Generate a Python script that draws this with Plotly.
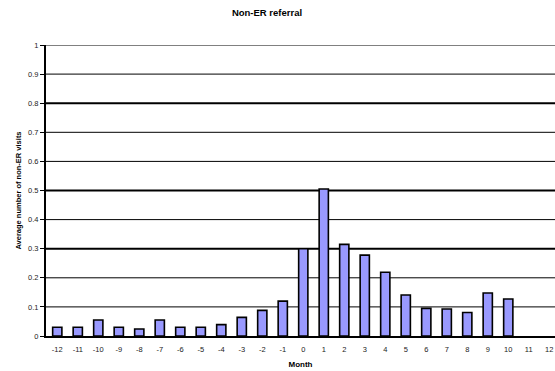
import plotly.graph_objects as go

# Average number of non-ER visits per month relative to the index month
months = list(range(-12, 13))
avg_visits = [0.030, 0.030, 0.055, 0.030, 0.024, 0.055, 0.030, 0.030, 0.039,
              0.064, 0.088, 0.120, 0.300, 0.505, 0.315, 0.278, 0.219, 0.141,
              0.095, 0.093, 0.081, 0.148, 0.127, None, None]

y_ticks = [round(i * 0.1, 1) for i in range(11)]
y_tick_text = ["0" if v == 0 else ("1" if v == 1 else f"{v:.1f}") for v in y_ticks]

# Horizontal rules: (level, width, colour)
rules = [(0.1, 1, "black"), (0.2, 1, "black"), (0.3, 2, "black"),
         (0.4, 1, "black"), (0.5, 2, "black"), (0.6, 1, "black"),
         (0.7, 1, "black"), (0.8, 2, "black"), (0.9, 1, "black"),
         (1.0, 2, "#808080")]

FONT = "Liberation Sans, Arial, sans-serif"

fig = go.Figure(go.Bar(
    x=months,
    y=avg_visits,
    width=0.45,
    marker=dict(color="#9999FF", line=dict(color="black", width=1.6)),
))

shapes = [dict(type="line", xref="paper", x0=0, x1=1, yref="y", y0=lvl, y1=lvl,
               line=dict(color=col, width=w), layer="below")
          for lvl, w, col in rules]

fig.update_layout(
    width=555, height=371,
    margin=dict(l=46, r=0, t=45, b=35),
    paper_bgcolor="white", plot_bgcolor="white",
    showlegend=False,
    shapes=shapes,
    font=dict(family=FONT, color="black"),
    title=dict(text="<b>Non-ER referral</b>", font=dict(size=9.5, family=FONT),
               xref="container", x=267 / 555, xanchor="center",
               yref="container", y=1 - 13 / 371, yanchor="middle"),
    xaxis=dict(
        range=[-12.55, 12.28],
        tickmode="array", tickvals=months, ticktext=[str(m) for m in months],
        tickfont=dict(size=7.5, color="#222222"),
        ticks="", ticklabelstandoff=5, showgrid=False, zeroline=False,
        showline=True, linecolor="black", linewidth=2,
        title=dict(text="<b>Month</b>", font=dict(size=8), standoff=8),
    ),
    yaxis=dict(
        range=[0, 1],
        tickmode="array", tickvals=y_ticks, ticktext=y_tick_text,
        tickfont=dict(size=7.5, color="#222222"),
        ticks="outside", ticklen=4, tickcolor="black", tickwidth=1,
        showgrid=False, zeroline=False,
        showline=True, linecolor="black", linewidth=2,
        title=dict(text="<b>Average number of non-ER visits</b>",
                   font=dict(size=7.5), standoff=5),
    ),
)

fig.write_html("out.html")
